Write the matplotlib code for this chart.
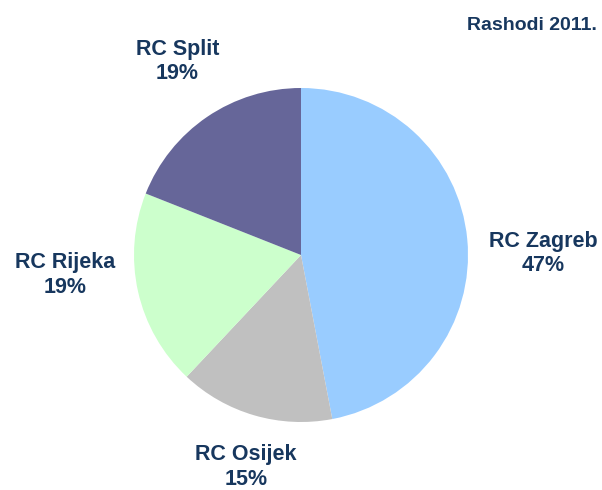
import matplotlib.pyplot as plt

labels = ['RC Zagreb', 'RC Osijek', 'RC Rijeka', 'RC Split']
shares = [47, 15, 19, 19]
colors = ['#99CCFF', '#C0C0C0', '#CCFFCC', '#666699']
# label positions in units of the pie radius
label_pos = [(1.45, 0.01), (-0.33, -1.27), (-1.41, -0.12), (-0.74, 1.16)]
text_color = '#17375E'

plt.rcParams['font.family'] = ['Liberation Sans', 'DejaVu Sans']

fig = plt.figure(figsize=(6.02, 4.9), dpi=100)
ax = fig.add_axes([0, 0, 1, 1])
ax.pie(shares, colors=colors, startangle=90, counterclock=False, radius=1.0,
       wedgeprops={'linewidth': 0})
for lab, val, (x, y) in zip(labels, shares, label_pos):
    ax.text(x, y, f'{lab}\n{val}%', ha='center', va='center', fontsize=15.5,
            fontweight='bold', color=text_color, linespacing=1.2)
ax.set_xlim(-301 / 167, 301 / 167)
ax.set_ylim(-235 / 167, 255 / 167)
ax.set_aspect('auto')
ax.axis('off')

fig.text(597 / 602, 1 - 25 / 490, 'Rashodi 2011.', ha='right', va='center',
         fontsize=14, fontweight='bold', color=text_color)

fig.savefig('out.png', dpi=100)
